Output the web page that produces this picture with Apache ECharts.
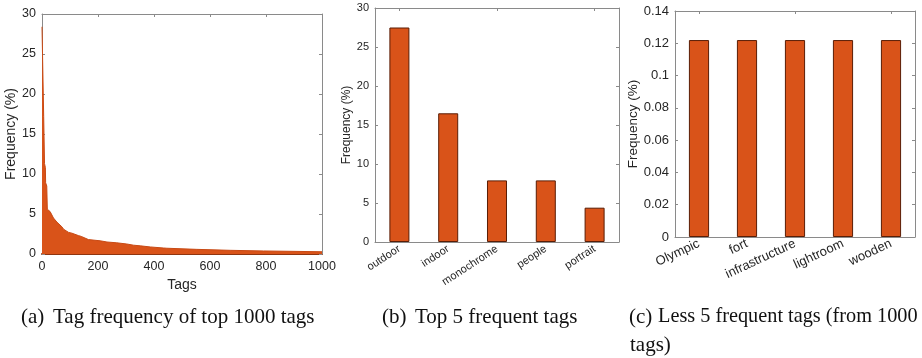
<!DOCTYPE html>
<html><head><meta charset="utf-8">
<script src="https://cdn.jsdelivr.net/npm/echarts@6/dist/echarts.min.js"></script>
<style>html,body{margin:0;padding:0;background:#fff;}#c{width:922px;height:358px;}</style>
</head><body><div id="c"></div>
<script>
// Panel (a): tag rank vs frequency (%)
const tagRanks = [0, 5, 6, 8, 9, 12, 13, 17, 19, 29, 41, 53, 59, 71, 77, 83, 95, 107, 130, 140, 166, 208, 232, 267, 303, 327, 351, 387, 434, 446, 553, 672, 791, 900, 1000];
const tagFreq  = [28.4, 28.4, 17.2, 17.0, 11.3, 10.8, 8.9, 8.5, 5.6, 5.3, 4.5, 4.0, 3.8, 3.4, 3.1, 3.0, 2.7, 2.6, 2.3, 2.2, 1.8, 1.65, 1.5, 1.4, 1.25, 1.1, 1.02, 0.88, 0.75, 0.72, 0.58, 0.46, 0.38, 0.33, 0.28];
// Panel (b)
const topTags = ['outdoor', 'indoor', 'monochrome', 'people', 'portrait'];
const topFreq = [27.5, 16.5, 7.9, 7.9, 4.4];
// Panel (c)
const lessTags = ['Olympic', 'fort', 'infrastructure', 'lightroom', 'wooden'];
const lessFreq = [0.122, 0.122, 0.122, 0.122, 0.122];
// Captions
const captionLabels = ['(a)', '(b)', '(c)'];
const captionTexts = ['Tag frequency of top 1000 tags', 'Top 5 frequent tags', 'Less 5 frequent tags (from 1000'];
const captionWrap = 'tags)';

const ORANGE = '#D95319';
const BOX = '#8a8a8a';
const TXT = '#262626';
const SANS = 'Liberation Sans, Arial, sans-serif';
const SERIF = 'Liberation Serif, serif';

function mirrorX(gi, type, extra) {
  return Object.assign({ gridIndex: gi, type: type, position: 'top', axisLine: { show: true, onZero: false, lineStyle: { color: BOX } },
    axisTick: { show: true, inside: true, length: 3, lineStyle: { color: BOX } }, axisLabel: { show: false }, splitLine: { show: false } }, extra);
}
function mirrorY(gi, extra) {
  return Object.assign({ gridIndex: gi, type: 'value', position: 'right', axisLine: { show: true, onZero: false, lineStyle: { color: BOX } },
    axisTick: { show: true, inside: true, length: 3, lineStyle: { color: BOX } }, axisLabel: { show: false }, splitLine: { show: false } }, extra);
}
function cap(x, y, s, size) {
  return { type: 'text', x: x, y: y, style: { text: s, font: (size || 21) + 'px ' + SERIF, fill: '#111', verticalAlign: 'middle' } };
}

const chart = echarts.init(document.getElementById('c'), null, { renderer: 'canvas' });
chart.setOption({
  animation: false,
  backgroundColor: '#fff',
  graphic: [
    cap(21, 317, captionLabels[0]),
    cap(53, 317, captionTexts[0]),
    cap(382, 317, captionLabels[1]),
    cap(415, 317, captionTexts[1]),
    cap(629, 317, captionLabels[2]),
    cap(658, 317, captionTexts[2], 20.3),
    cap(630, 345, captionWrap)
  ],
  grid: [
    { left: 42, top: 14, width: 280, height: 240 },
    { left: 375, top: 8, width: 244, height: 234 },
    { left: 675, top: 11, width: 240, height: 226 }
  ],
  xAxis: [
    { gridIndex: 0, type: 'value', min: 0, max: 1000, interval: 200, name: 'Tags', nameLocation: 'middle', nameGap: 21,
      nameTextStyle: { fontFamily: SANS, fontSize: 14, color: TXT },
      axisLine: { show: true, onZero: false, lineStyle: { color: '#8f3510', width: 2 } },
      axisTick: { show: true, inside: true, length: 3, lineStyle: { color: BOX } },
      axisLabel: { fontFamily: SANS, fontSize: 12.5, color: TXT, margin: 6, formatter: v => String(v) }, splitLine: { show: false } },
    { gridIndex: 1, type: 'category', data: topTags,
      axisLine: { show: true, onZero: false, lineStyle: { color: BOX } },
      axisTick: { show: true, inside: true, length: 3, alignWithLabel: true, lineStyle: { color: BOX } },
      axisLabel: { fontFamily: SANS, fontSize: 11, color: TXT, rotate: 33, margin: 6, interval: 0 } },
    { gridIndex: 2, type: 'category', data: lessTags,
      axisLine: { show: true, onZero: false, lineStyle: { color: BOX } },
      axisTick: { show: true, inside: true, length: 3, alignWithLabel: true, lineStyle: { color: BOX } },
      axisLabel: { fontFamily: SANS, fontSize: 13, color: TXT, rotate: 25, margin: 6, interval: 0 } },
    mirrorX(0, 'value', { min: 0, max: 1000, interval: 200 }),
    mirrorX(1, 'category', { data: topTags, axisTick: { show: true, inside: true, length: 3, alignWithLabel: true, lineStyle: { color: BOX } } }),
    mirrorX(2, 'category', { data: lessTags, axisTick: { show: true, inside: true, length: 3, alignWithLabel: true, lineStyle: { color: BOX } } })
  ],
  yAxis: [
    { gridIndex: 0, type: 'value', min: 0, max: 30, interval: 5, name: 'Frequency (%)', nameLocation: 'middle', nameGap: 19,
      nameTextStyle: { fontFamily: SANS, fontSize: 14, color: TXT },
      axisLine: { show: true, onZero: false, lineStyle: { color: BOX } },
      axisTick: { show: true, inside: true, length: 3, lineStyle: { color: BOX } },
      axisLabel: { fontFamily: SANS, fontSize: 12.5, color: TXT, margin: 6 }, splitLine: { show: false } },
    { gridIndex: 1, type: 'value', min: 0, max: 30, interval: 5, name: 'Frequency (%)', nameLocation: 'middle', nameGap: 17,
      nameTextStyle: { fontFamily: SANS, fontSize: 12, color: TXT },
      axisLine: { show: true, onZero: false, lineStyle: { color: BOX } },
      axisTick: { show: true, inside: true, length: 3, lineStyle: { color: BOX } },
      axisLabel: { fontFamily: SANS, fontSize: 11, color: TXT, margin: 6 }, splitLine: { show: false } },
    { gridIndex: 2, type: 'value', min: 0, max: 0.14, interval: 0.02, name: 'Frequency (%)', nameLocation: 'middle', nameGap: 30,
      nameTextStyle: { fontFamily: SANS, fontSize: 13.5, color: TXT },
      axisLine: { show: true, onZero: false, lineStyle: { color: BOX } },
      axisTick: { show: true, inside: true, length: 3, lineStyle: { color: BOX } },
      axisLabel: { fontFamily: SANS, fontSize: 13, color: TXT, margin: 6 }, splitLine: { show: false } },
    mirrorY(0, { min: 0, max: 30, interval: 5 }),
    mirrorY(1, { min: 0, max: 30, interval: 5 }),
    mirrorY(2, { min: 0, max: 0.14, interval: 0.02 })
  ],
  series: [
    { type: 'line', xAxisIndex: 0, yAxisIndex: 0, data: tagRanks.map((r, i) => [r, tagFreq[i]]),
      showSymbol: false, symbol: 'none', lineStyle: { color: '#c84a15', width: 1 }, areaStyle: { color: ORANGE, opacity: 1 } },
    { type: 'bar', xAxisIndex: 1, yAxisIndex: 1, data: topFreq, barWidth: '41%',
      itemStyle: { color: ORANGE, borderColor: '#5a1d05', borderWidth: 1 } },
    { type: 'bar', xAxisIndex: 2, yAxisIndex: 2, data: lessFreq, barWidth: '42%',
      itemStyle: { color: ORANGE, borderColor: '#5a1d05', borderWidth: 1 } }
  ]
});
</script></body></html>
